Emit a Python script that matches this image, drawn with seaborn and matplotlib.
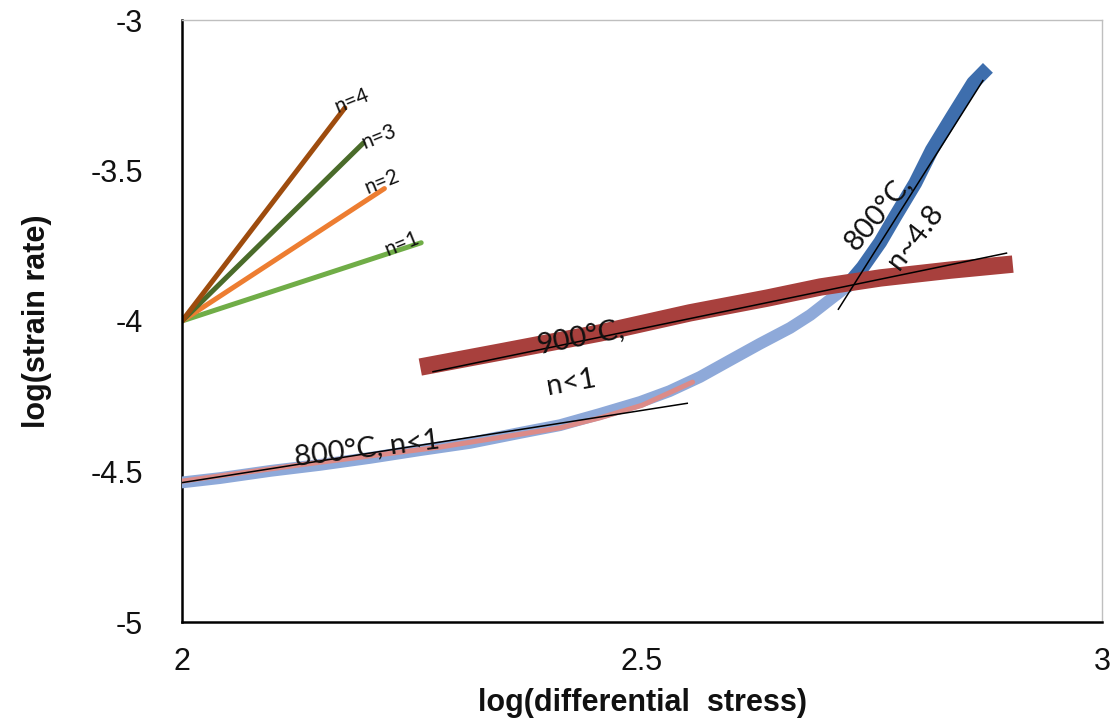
import numpy as np
import pandas as pd
import matplotlib
matplotlib.use("Agg")
import matplotlib.pyplot as plt
import seaborn as sns

# ---- data -------------------------------------------------------------
# reference slopes (stress exponent n) fanning out of (2, -4)
fan_n = [1, 2, 3, 4]
fan_x_end = [2.26, 2.22, 2.197, 2.177]
fan_colors = ["#70AD47", "#ED7D31", "#4A6B2A", "#9E4C0E"]
fan_origin = (2.0, -4.0)

# 800 °C test, low-stress branch
t800_low_x = [1.995, 2.041, 2.096, 2.150, 2.204, 2.259, 2.313, 2.367, 2.411,
              2.454, 2.498, 2.530, 2.563, 2.596, 2.628, 2.661, 2.683, 2.704, 2.721]
t800_low_y = [-4.538, -4.522, -4.498, -4.478, -4.455, -4.429, -4.405, -4.372, -4.346,
              -4.309, -4.269, -4.233, -4.186, -4.130, -4.076, -4.023, -3.980, -3.930, -3.890]

# 800 °C test, high-stress branch
t800_high_x = [2.721, 2.740, 2.759, 2.775, 2.797, 2.815, 2.837, 2.860, 2.876]
t800_high_y = [-3.890, -3.821, -3.738, -3.654, -3.542, -3.432, -3.322, -3.209, -3.159]

# 800 °C section used for the n<1 fit
t800_fit_x = [2.0, 2.128, 2.28, 2.411, 2.454, 2.50, 2.555]
t800_fit_y = [-4.532, -4.478, -4.419, -4.355, -4.322, -4.280, -4.203]

# 900 °C test
t900_x = [2.259, 2.346, 2.454, 2.552, 2.636, 2.694, 2.759, 2.835, 2.903]
t900_y = [-4.153, -4.103, -4.040, -3.973, -3.924, -3.887, -3.857, -3.831, -3.811]

# straight-line fits
fit_800_low_x = [2.0, 2.550]
fit_800_low_y = [-4.537, -4.273]
fit_800_high_x = [2.713, 2.871]
fit_800_high_y = [-3.963, -3.199]
fit_900_x = [2.272, 2.897]
fit_900_y = [-4.169, -3.774]

x_ticks = [2, 2.5, 3]
y_ticks = [-5, -4.5, -4, -3.5, -3]

# ---- figure -----------------------------------------------------------
sns.set_theme(style="white")
plt.rcParams["font.family"] = ["Liberation Sans", "DejaVu Sans"]

fig = plt.figure(figsize=(11.19, 7.27), dpi=100)
ax = fig.add_axes([182 / 1119, 1 - 622 / 727, 920 / 1119, 602 / 727])


def draw(x, y, color, lw, z, cap="butt"):
    df = pd.DataFrame({"x": x, "y": y})
    sns.lineplot(data=df, x="x", y="y", ax=ax, color=color, lw=lw,
                 sort=False, estimator=None, zorder=z,
                 solid_capstyle=cap, solid_joinstyle="round")


# fan of reference slopes
for n, xe, c in zip(fan_n, fan_x_end, fan_colors):
    x0, y0 = fan_origin
    draw([x0, xe], [y0, y0 + n * (xe - x0)], c, 3.6, 2, cap="round")

# experimental curves
draw(t800_low_x, t800_low_y, "#8EA9D9", 8.5, 3)
draw(t800_high_x, t800_high_y, "#3E6EAD", 10, 3)
draw(t800_fit_x, t800_fit_y, "#DC8B88", 3.6, 4, cap="round")
draw(t900_x, t900_y, "#A8403D", 12.5, 5)

# fitted lines
for fx, fy in [(fit_800_low_x, fit_800_low_y),
               (fit_800_high_x, fit_800_high_y),
               (fit_900_x, fit_900_y)]:
    draw(fx, fy, "black", 1.1, 6)

# annotations
note = dict(family=["Lato", "DejaVu Sans"], color="#111111",
            ha="center", va="center", rotation_mode="anchor", zorder=7)
ax.text(2.201, -4.422, "800°C, n<1", fontsize=21, rotation=7, **note)
ax.text(2.423, -4.206, "n<1", fontsize=21, rotation=10, **note)
ax.text(2.433, -4.053, "900°C,", fontsize=21, rotation=11, **note)
ax.text(2.757, -3.638, "800°C,", fontsize=21, rotation=50, **note)
ax.text(2.797, -3.721, "n~4.8", fontsize=21, rotation=52, **note)

fan_lbl_pos = [(2.239, -3.744), (2.217, -3.538), (2.214, -3.389), (2.185, -3.269)]
for n, (lx, ly) in zip(fan_n, fan_lbl_pos):
    ax.text(lx, ly, f"n={n}", fontsize=15, rotation=22, **note)

# axes
ax.set_xlim(2, 3)
ax.set_ylim(-5, -3)
ax.set_xticks(x_ticks)
ax.set_xticklabels(["2", "2.5", "3"])
ax.set_yticks(y_ticks)
ax.set_yticklabels(["-5", "-4.5", "-4", "-3.5", "-3"])
ax.tick_params(axis="both", direction="in", length=10, width=1.5,
               color="black", labelsize=22, labelcolor="#111111")
ax.tick_params(axis="y", pad=28)
ax.tick_params(axis="x", pad=18)
ax.set_xlabel("log(differential  stress)", fontsize=22, fontweight="bold",
              labelpad=8, color="#111111")
ax.set_ylabel("log(strain rate)", fontsize=22, fontweight="bold",
              labelpad=28, color="#111111")

for side in ["left", "bottom"]:
    ax.spines[side].set_color("black")
    ax.spines[side].set_linewidth(1.8)
for side in ["top", "right"]:
    ax.spines[side].set_color("#BFBFBF")
    ax.spines[side].set_linewidth(1.0)
ax.grid(False)

fig.savefig("out.png", dpi=100, facecolor="white")
